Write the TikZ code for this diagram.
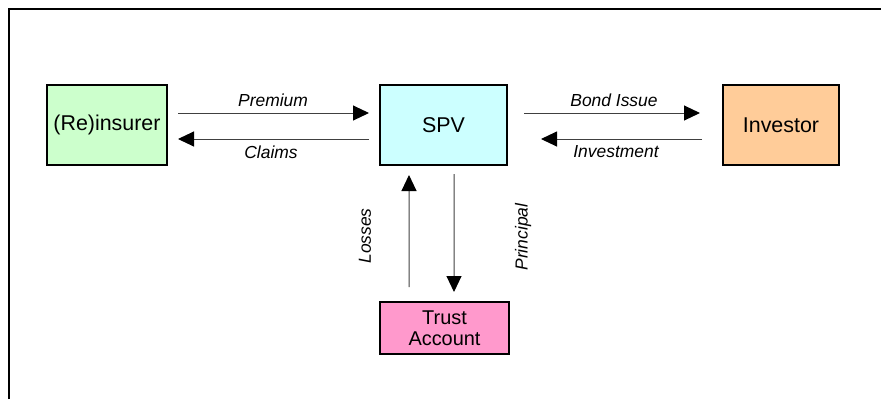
\documentclass[tikz,border=0pt]{standalone}
\usepackage{fontspec}
\setmainfont{Liberation Sans}
\usetikzlibrary{arrows.meta,calc}
\begin{document}
\begin{tikzpicture}[x=1bp,y=1bp,
  party/.style={draw=black,line width=2bp,minimum height=80bp,inner sep=0pt,
    font=\fontsize{21.5}{24}\selectfont,align=center},
  flow/.style={draw=black!75,line width=1bp,-{Triangle[length=16bp,width=15bp,color=black]}},
  lbl/.style={font=\fontsize{17.5}{20}\selectfont\itshape,inner sep=0pt}]
  \useasboundingbox (0,0) rectangle (881,-399);
  % frame (left and top edges)
  \draw[line width=2.5bp] (9,-399) -- (9,-9) -- (881,-9);

  % parties
  \node[party,fill={rgb,255:red,204;green,255;blue,204},minimum width=120bp] (reins) at (107,-125) {(Re)insurer};
  \node[party,fill={rgb,255:red,204;green,255;blue,255},minimum width=127bp] (spv) at (443.5,-125) {SPV};
  \node[party,fill={rgb,255:red,255;green,204;blue,153},minimum width=116bp] (inv) at (781,-125) {Investor};
  \node[party,fill={rgb,255:red,255;green,153;blue,204},minimum width=129bp,minimum height=52bp,
    font=\fontsize{20}{21}\selectfont] (trust) at (444.5,-328) {Trust\\Account};

  % flows between reinsurer and SPV
  \draw[flow,shorten <=10bp,shorten >=10bp] ([yshift=12bp]reins.east) -- ([yshift=12bp]spv.west);
  \draw[flow,shorten <=10bp,shorten >=10bp] ([yshift=-14bp]spv.west) -- ([yshift=-14bp]reins.east);
  % flows between SPV and investor
  \draw[flow,shorten <=16bp,shorten >=22bp] ([yshift=12bp]spv.east) -- ([yshift=12bp]inv.west);
  \draw[flow,shorten <=20bp,shorten >=33bp] ([yshift=-14bp]inv.west) -- ([yshift=-14bp]spv.east);
  % flows between SPV and trust account
  \draw[flow,shorten <=14bp,shorten >=9bp] ([xshift=-35.5bp]trust.north) -- ([xshift=-34.5bp]spv.south);
  \draw[flow,shorten <=8bp,shorten >=9bp] ([xshift=10.5bp]spv.south) -- ([xshift=9.5bp]trust.north);

  % flow labels
  \node[lbl] (lprem) at (273,-100) {Premium};
  \node[lbl] (lclaim) at (271,-152) {Claims};
  \node[lbl] (lbond) at (614,-100) {Bond Issue};
  \node[lbl] (linv) at (616,-152) {Investment};
  \node[lbl,rotate=90] (lloss) at (365,-236) {Losses};
  \node[lbl,rotate=90] (lprin) at (523,-237) {Principal};
\end{tikzpicture}
\end{document}
